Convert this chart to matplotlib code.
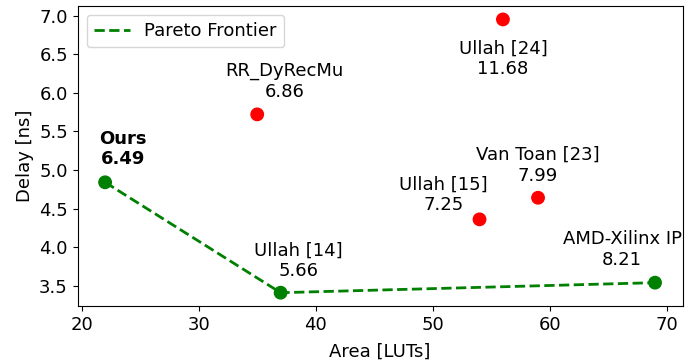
import matplotlib
matplotlib.use('Agg')
import matplotlib.pyplot as plt

# design points
names = ['Ours', 'Ullah [14]', 'AMD-Xilinx IP', 'RR_DyRecMu', 'Ullah [24]', 'Ullah [15]', 'Van Toan [23]']
area = [22, 37, 69, 35, 56, 54, 59]
delay = [4.84, 3.41, 3.54, 5.72, 6.95, 4.36, 4.64]
adp = ['6.49', '5.66', '8.21', '6.86', '11.68', '7.25', '7.99']
pareto = [True, True, True, False, False, False, False]

# label placement (pixels relative to the point)
offsets = [(18, 14), (18, 12.5), (-33, 13.5), (27, 13.5), (0, -20), (-36, 5), (0, 13)]

plt.rcParams['font.family'] = 'DejaVu Sans'
plt.rcParams['font.size'] = 13

fig = plt.figure(figsize=(6.85, 3.6), dpi=100)
ax = fig.add_axes([0.1133, 0.149, 0.8831, 0.835])

px = [a for a, p in zip(area, pareto) if p]
py = [d for d, p in zip(delay, pareto) if p]
ax.plot(px, py, '--', color='green', lw=2, label='Pareto Frontier')

colors = ['green' if p else 'red' for p in pareto]
ax.scatter(area, delay, c=colors, s=80, zorder=3)

for i in range(len(names)):
    dx, dy = offsets[i]
    va = 'top' if dy < 0 else 'bottom'
    ax.annotate(names[i] + '\n' + adp[i], (area[i], delay[i]),
                xytext=(dx, dy), textcoords='offset pixels',
                ha='center', va=va, multialignment='center',
                fontweight='bold' if names[i] == 'Ours' else 'normal')

ax.set_xlabel('Area [LUTs]', labelpad=6)
ax.set_ylabel('Delay [ns]')
ax.legend(loc='upper left')

fig.savefig('out.png', dpi=100)
